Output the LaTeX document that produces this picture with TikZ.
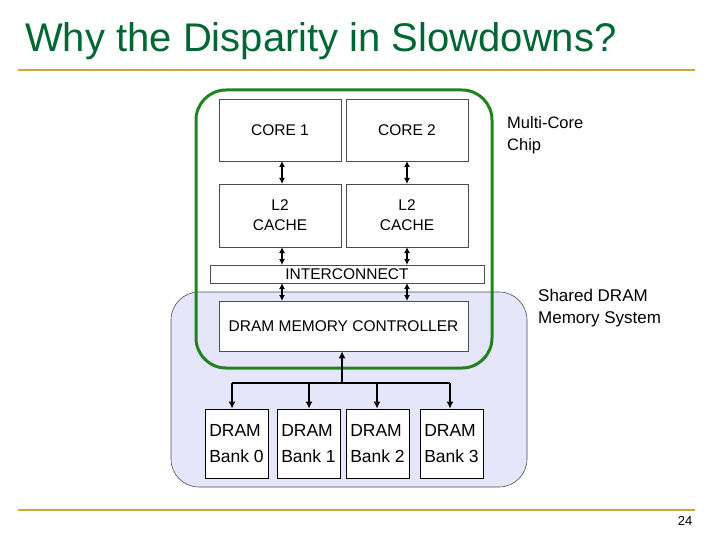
\documentclass[tikz,border=0pt]{standalone}
\usepackage{fontspec}
\setmainfont{Liberation Sans}
\usetikzlibrary{arrows.meta}
\definecolor{titlegreen}{RGB}{0,102,51}
\definecolor{gold}{RGB}{204,170,51}
\definecolor{lav}{RGB}{230,230,250}
\definecolor{chipgreen}{RGB}{34,130,34}
\begin{document}
\begin{tikzpicture}[x=1pt,y=-1pt,
  box/.style={draw=black!70,fill=white,line width=0.6pt,font=\fontsize{15.5}{20}\selectfont,align=center,inner sep=0pt},
  bank/.style={draw=black,fill=white,line width=0.8pt,font=\fontsize{17.5}{26}\selectfont,align=left,inner sep=0pt},
  dbl/.style={{Latex[length=6pt,width=6pt]}-{Latex[length=6pt,width=6pt]},line width=1.4pt},
  one/.style={-{Latex[length=7pt,width=7pt]},line width=1.5pt}]
\useasboundingbox (0,0) rectangle (720,540);
\node[anchor=west,text=titlegreen,font=\fontsize{40}{44}\selectfont,inner sep=0pt] (title) at (25,41) {Why the Disparity in Slowdowns?};
\draw[gold,line width=2.5pt] (18,70) -- (695,70);
\draw[gold,line width=2.5pt] (18,510) -- (695,510);
\node[font=\fontsize{13}{15}\selectfont] (pg) at (685,521) {24};
\draw[black!70,fill=lav,rounded corners=28pt,line width=0.6pt] (171,292) rectangle (527,487);
\draw[chipgreen,line width=3pt,rounded corners=30pt] (196,90) rectangle (492,368);
\node[box,minimum width=122,minimum height=62] (c1) at (280,130) {CORE 1};
\node[box,minimum width=122,minimum height=62] (c2) at (407,130) {CORE 2};
\node[box,minimum width=122,minimum height=63] (l1) at (280,215.5) {L2\\CACHE};
\node[box,minimum width=122,minimum height=63] (l2) at (407,215.5) {L2\\CACHE};
\node[box,minimum width=274,minimum height=18] (ic) at (347,274) {INTERCONNECT};
\node[box,minimum width=249,minimum height=50] (mc) at (343.5,326) {DRAM MEMORY CONTROLLER};
\foreach \n/\x in {0/236.5,1/308.5,2/377.5,3/451.5}
  \node[bank,minimum width=63,minimum height=69] (b\n) at (\x,443.5) {DRAM\\Bank \n};
\foreach \x in {282,407}{
  \draw[dbl] (\x,161) -- (\x,184);
  \draw[dbl] (\x,247) -- (\x,265);
  \draw[dbl] (\x,283) -- (\x,301);}
\coordinate (j) at (342,383);
\draw[one] (j) -- (mc.south -| j);
\draw[line width=1.5pt] (232,383) -- (450,383);
\foreach \n/\x in {0/232,1/309,2/377,3/450}
  \draw[one] (\x,383) -- (b\n.north -| {(\x,0)});
\node[anchor=north west,align=left,font=\fontsize{16.5}{22}\selectfont,inner sep=0pt] (mcc) at (507,116) {Multi-Core\\Chip};
\node[anchor=north west,align=left,font=\fontsize{17}{22}\selectfont,inner sep=0pt] (sd) at (538,289) {Shared DRAM\\Memory System};
\end{tikzpicture}
\end{document}
